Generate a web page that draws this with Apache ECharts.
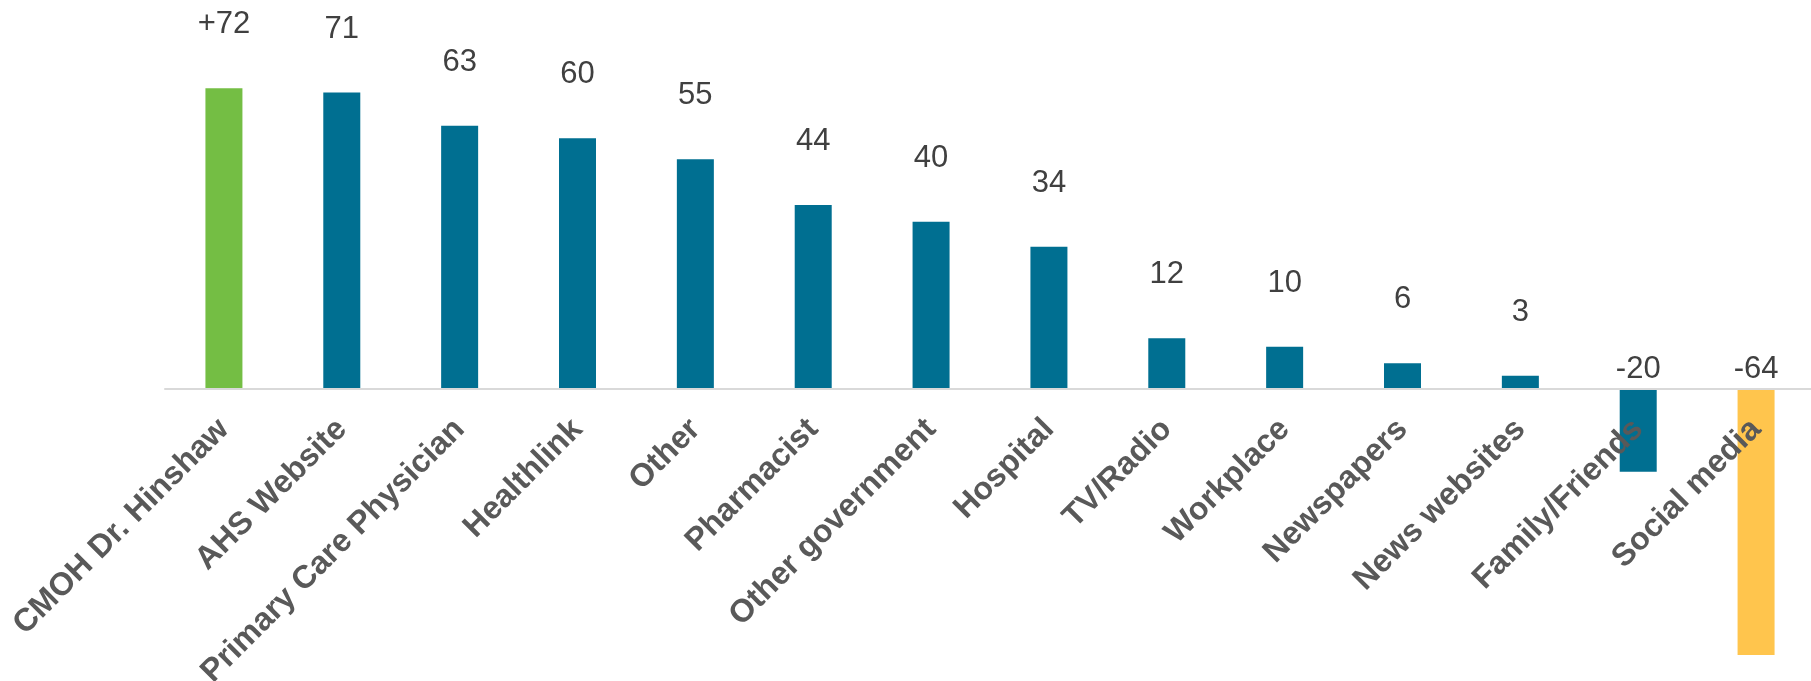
<!DOCTYPE html>
<html>
<head>
<meta charset="utf-8">
<script src="https://cdn.jsdelivr.net/npm/echarts@6/dist/echarts.min.js"></script>
<style>
html,body{margin:0;padding:0;background:#fff;}
#chart{width:1811px;height:681px;}
</style>
</head>
<body>
<div id="chart"></div>
<script>
const categories = ["CMOH Dr. Hinshaw","AHS Website","Primary Care Physician","Healthlink","Other","Pharmacist","Other government","Hospital","TV/Radio","Workplace","Newspapers","News websites","Family/Friends","Social media"];
const values = [72, 71, 63, 60, 55, 44, 40, 34, 12, 10, 6, 3, -20, -64];
const valueLabels = ["+72","71","63","60","55","44","40","34","12","10","6","3","-20","-64"];

const FONT = "'Liberation Sans', Arial, sans-serif";
const TEAL = "#006F91", GREEN = "#74BE44", YELLOW = "#FFC54D";

const data = values.map((v, i) => {
  let color = TEAL;
  if (i === 0) color = GREEN;
  if (i === values.length - 1) color = YELLOW;
  return {
    value: v,
    itemStyle: { color: color },
    label: v < 0 ? { position: 'top', distance: 3 } : { position: 'top', distance: 48 }
  };
});

const chart = echarts.init(document.getElementById('chart'), null, {renderer: 'canvas'});
chart.setOption({
  animation: false,
  grid: { left: 165, top: 55, width: 1650, height: 333.33, containLabel: false, outerBoundsMode: 'none' },
  xAxis: {
    type: 'category',
    data: categories,
    z: 10,
    axisLine: { onZero: false, lineStyle: { color: '#D9D9D9', width: 2 } },
    axisTick: { show: false },
    axisLabel: {
      interval: 0,
      rotate: 45,
      margin: 36,
      fontFamily: FONT,
      fontSize: 32,
      fontWeight: 'bold',
      color: '#595959'
    }
  },
  yAxis: {
    type: 'value',
    min: 0,
    max: 80,
    show: false,
    splitLine: { show: false }
  },
  series: [{
    type: 'bar',
    data: data,
    clip: false,
    barWidth: 37,
    label: {
      show: true,
      fontFamily: FONT,
      fontSize: 31,
      color: '#404040',
      formatter: p => valueLabels[p.dataIndex]
    }
  }]
});
</script>
</body>
</html>
